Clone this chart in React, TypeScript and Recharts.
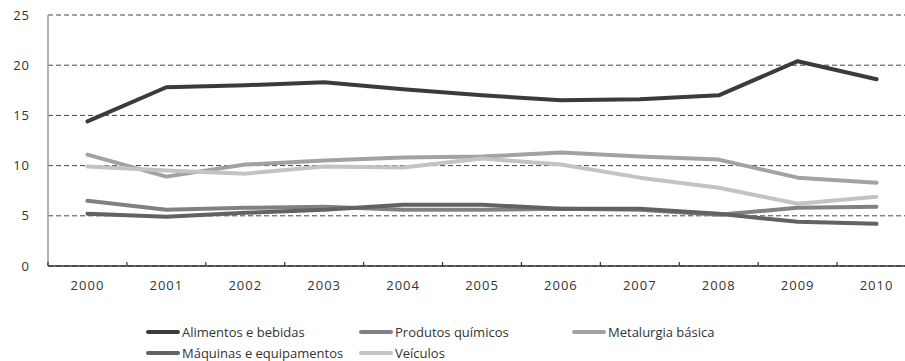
import React from 'react';
import { LineChart, Line, XAxis, YAxis, CartesianGrid } from 'recharts';

// Years on the category axis
const years = ['2000', '2001', '2002', '2003', '2004', '2005', '2006', '2007', '2008', '2009', '2010'];

// Share (%) per industrial sector
const alimentos = [14.4, 17.8, 18.0, 18.3, 17.6, 17.0, 16.5, 16.6, 17.0, 20.4, 18.6];
const quimicos = [6.5, 5.6, 5.8, 5.9, 5.6, 5.6, 5.7, 5.6, 5.1, 5.8, 5.9];
const metalurgia = [11.1, 8.9, 10.1, 10.5, 10.8, 10.9, 11.3, 10.9, 10.6, 8.8, 8.3];
const maquinas = [5.2, 4.9, 5.3, 5.6, 6.1, 6.1, 5.7, 5.7, 5.2, 4.4, 4.2];
const veiculos = [9.9, 9.5, 9.2, 9.9, 9.8, 10.7, 10.1, 8.8, 7.8, 6.2, 6.9];

const yTicks = [0, 5, 10, 15, 20, 25];

const series = [
  { key: 'alimentos', name: 'Alimentos e bebidas', values: alimentos, color: '#3b3b3b' },
  { key: 'quimicos', name: 'Produtos químicos', values: quimicos, color: '#818181' },
  { key: 'metalurgia', name: 'Metalurgia básica', values: metalurgia, color: '#a2a2a2' },
  { key: 'maquinas', name: 'Máquinas e equipamentos', values: maquinas, color: '#626262' },
  { key: 'veiculos', name: 'Veículos', values: veiculos, color: '#c3c3c3' },
];

const data = years.map((year, i) => {
  const row: Record<string, string | number> = { year };
  series.forEach((s) => {
    row[s.key] = s.values[i];
  });
  return row;
});

const FONT = '"Open Sans", sans-serif';
const TICK_MARGIN = 15;
const TICK_LEN = 4;

const legendCols = [146, 359, 572];

// Year label centred in its band, with the tick mark on the band's left edge
function YearTick(props: any) {
  const { x, y, payload } = props;
  const half = payload && payload.offset ? payload.offset : 0;
  const axisY = y - TICK_MARGIN;
  return (
    <g>
      <line x1={x - half} x2={x - half} y1={axisY - TICK_LEN} y2={axisY} stroke="#333" strokeWidth={1.2} />
      <text
        x={x}
        y={y}
        dy="0.71em"
        textAnchor="middle"
        fill="#333"
        fontSize={13}
        fontFamily={FONT}
        letterSpacing={1}
      >
        {payload.value}
      </text>
    </g>
  );
}

export default function App() {
  return (
    <div
      style={{
        position: 'absolute',
        left: 0,
        top: 0,
        width: 905,
        height: 361,
        overflow: 'hidden',
        background: '#fff',
        fontFamily: FONT,
      }}
    >
      <LineChart
        width={925}
        height={300}
        data={data}
        margin={{ top: 15, right: 9, bottom: 4, left: 0 }}
      >
        <CartesianGrid vertical={false} stroke="#444" strokeDasharray="5 3" />
        <XAxis
          dataKey="year"
          scale="band"
          height={30}
          axisLine={{ stroke: '#333', strokeWidth: 1.5 }}
          tickLine={false}
          tickSize={TICK_LEN}
          tickMargin={TICK_MARGIN - TICK_LEN}
          interval={0}
          tick={<YearTick />}
        />
        <YAxis
          width={48}
          domain={[0, 25]}
          ticks={yTicks}
          tickLine={false}
          tickSize={0}
          tickMargin={18}
          axisLine={{ stroke: '#999', strokeWidth: 1.5 }}
          tick={{ fill: '#333', fontSize: 13, fontFamily: FONT, letterSpacing: 1 }}
        />
        {series.map((s) => (
          <Line
            key={s.key}
            dataKey={s.key}
            name={s.name}
            stroke={s.color}
            strokeWidth={4}
            strokeLinecap="round"
            strokeLinejoin="round"
            dot={false}
            activeDot={false}
            isAnimationActive={false}
          />
        ))}
      </LineChart>
      {series.map((s, i) => {
        const col = i % 3;
        const row = Math.floor(i / 3);
        return (
          <div
            key={s.key}
            style={{
              position: 'absolute',
              left: legendCols[col],
              top: 322 + row * 21,
              height: 20,
              display: 'flex',
              alignItems: 'center',
              fontSize: 13,
              color: '#333',
              whiteSpace: 'nowrap',
            }}
          >
            <span
              style={{
                display: 'inline-block',
                width: 34,
                height: 4,
                borderRadius: 2,
                background: s.color,
                marginRight: 2,
              }}
            />
            {s.name}
          </div>
        );
      })}
    </div>
  );
}
